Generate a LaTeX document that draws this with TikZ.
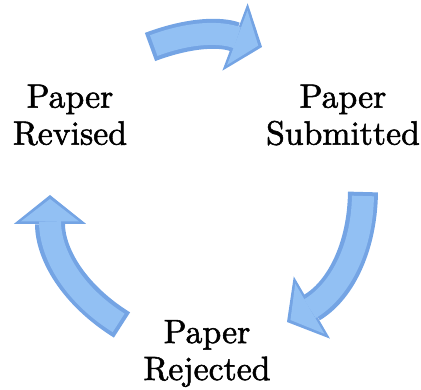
\documentclass[tikz,border=0pt]{standalone}
\usepackage{fontspec}
\usepackage{tikz}
\usetikzlibrary{arrows.meta}
\newfontfamily\stagefont{lmroman10-regular.otf}[FakeBold=1.6]
\definecolor{arrowblue}{RGB}{116,164,228}
\definecolor{arrowlight}{RGB}{146,192,243}
\tikzset{stage/.style={align=center,inner sep=0pt,font=\stagefont\fontsize{24}{26.3}\selectfont}}
\tikzset{bigarrow/.style={draw=arrowblue,line width=0.75cm,-{Triangle[width=1.8cm,length=0.72cm,line width=0pt]}}}
\tikzset{shine/.style={postaction={draw=arrowlight,line width=0.55cm,-{Triangle[width=1.45cm,length=0.56cm,line width=0pt]},shorten >=0.1cm,shorten <=0.1cm}}}

\begin{document}
\begin{tikzpicture}
    \useasboundingbox (0,0) rectangle (10.525,9.75);

    \node[stage] (revised) at (1.75,6.875) {Paper\\Revised};
    \node[stage] (submitted) at (8.575,6.875) {Paper\\Submitted};
    \node[stage] (rejected) at (5.175,0.9125) {Paper\\Rejected};

    \coordinate (top-a) at (3.75,8.575);
    \coordinate (top-b) at (6.55,8.575);
    \coordinate (right-a) at (9.075,4.95);
    \coordinate (right-b) at (7.175,1.7);
    \coordinate (left-a) at (3.05,1.625);
    \coordinate (left-b) at (1.25,4.875);

        \path[bigarrow,shine] (top-a) to[bend left=20.5] (top-b);
        \path[bigarrow,shine] (right-a) to[bend left=29.5] (right-b);
        \path[bigarrow,shine] (left-a) to[bend left=29] (left-b);
\end{tikzpicture}
\end{document}
